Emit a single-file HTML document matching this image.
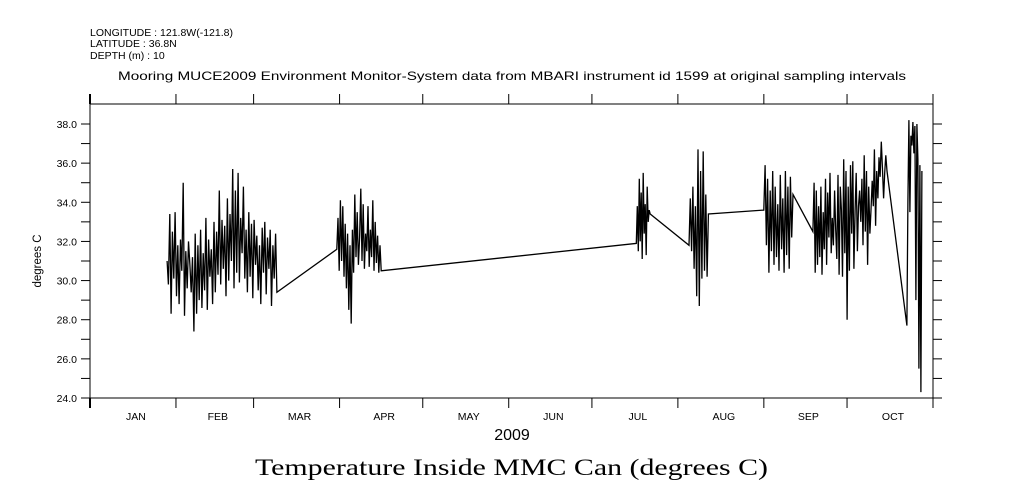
<!DOCTYPE html>
<html><head><meta charset="utf-8"><style>
html,body{margin:0;padding:0;background:#fff;}
svg{display:block;}
text{font-family:"Liberation Sans",sans-serif;fill:#000;}
</style></head><body>
<svg id="chart" width="1009" height="504" viewBox="0 0 1009 504">
<text x="90" y="36" font-size="10.5">LONGITUDE : 121.8W(-121.8)</text>
<text x="90" y="47" font-size="10.5">LATITUDE : 36.8N</text>
<text x="90" y="59" font-size="10.5">DEPTH (m) : 10</text>
<text x="118" y="80" font-size="12" textLength="788" lengthAdjust="spacingAndGlyphs">Mooring MUCE2009 Environment Monitor-System data from MBARI instrument id 1599 at original sampling intervals</text>
<rect x="90" y="104" width="843" height="294" fill="none" stroke="#000" stroke-width="1"/>
<g id="axes"></g>
<polyline id="series" fill="none" stroke="#000" stroke-width="1.3"/>
<text transform="translate(41,261) rotate(-90)" font-size="11.5" text-anchor="middle">degrees C</text>
<text x="512" y="440" font-size="16" text-anchor="middle">2009</text>
<text x="255" y="475" font-size="23" textLength="513" lengthAdjust="spacingAndGlyphs" style="font-family:'Liberation Serif',serif">Temperature Inside MMC Can (degrees C)</text>
</svg>
<script>
const monthLabels=["JAN","FEB","MAR","APR","MAY","JUN","JUL","AUG","SEP","OCT"];
const monthStarts=[0,31,59,90,120,151,181,212,243,273,304];
const yTicks=[24,26,28,30,32,34,36,38];
const segStart=[27.8,89,197,216,243,260.7,294.6];
const segEnd=[67.4,105,202,223,253.5,287.4,300];
const seg1=[31,29.8,33.4,28.3,32.5,30.1,33.5,29.2,31.8,28.8,32.1,30.5,35,28.2,31.5,29.6,32,30.8,29.4,31.2,27.4,32.4,28.3,31.8,29,32.6,28.6,31.4,29.5,33.2,28.5,32.1,30.2,31.6,28.8,33,29.4,32.5,30.3,34.6,29.8,33.1,30.6,32.8,29.2,34.2,30,33.4,31,35.7,29.6,34.6,30.4,35.5,29.9,33.2,31.4,34.8,30.1,32.6,29.4,33.5,30.2,32.9,29.1,33.1,30.8,32.3,29.5,31.8,28.8,32.7,30.4,33,29.3,32.2,30.6,32.6,28.7,31.8,30.1,32.4,29.4];
const seg2=[31.6,33.2,30.5,34.1,31,33.8,30.2,32.9,29.6,32.4,28.5,31.8,27.8,32.6,30.4,34.4,31.2,33.5,30.8,32.2,34.7,31,33.9,30.6,32.4,31.5,33.8,30.7,32.6,31.2,34.1,30.5,33,30.9,32.3,30.4,31.8,30.5];
const seg3=[31.9,33.8,31.5,35.2,32,34.5,31.1,35.5,32.4,33.9,31.3,34.8,33,33.6,33.4];
const seg4=[31.8,34.2,31.5,34.8,30.6,33.8,29.2,36.7,28.7,35.6,30.1,36.6,30.5,34.4,30.2,33.4];
const seg5=[33.6,35.9,31.8,35.2,30.4,34.6,31.5,35.6,30.8,34.8,31.2,33.9,30.5,35.4,31.6,34.2,30.4,35.6,31.3,34.8,30.6,35.3,32.2,34.4];
const seg6=[32.5,35,30.4,34.6,30.8,33.8,31.2,34.8,30.3,33.5,31.6,35.2,30.8,34.5,32.2,35.5,31.4,33.2,31.8,34.6,32.6,31.1,35.4,30.3,34.8,33.6,30.2,36.2,31.4,35.6,28,34.8,30.5,35.9,32.4,36.1,30.6,33.6,35.5,31.5,33.8,34.6,33,35.2,31.8,36.4,32.5,35.6,30.8,34.8,32.4,33.6,35.1,33.8,36.7,32.8,35.6,34.2,36.3,35.3,37.1,35.8,34.2,35.5,36.4,35.6];
const seg7=[27.7,34,38.2,33.5,37.4,36.9,38.1,36.5,37.9,29,38,36.2,25.5,35.9,24.3,35.6];
const segs=[seg1,seg2,seg3,seg4,seg5,seg6,seg7];

const X0=90,X1=933,Y0=398,Y1=104;
const xs=d=>X0+d*(X1-X0)/304;
const ys=v=>398-(v-24)*(274/14);
const NS="http://www.w3.org/2000/svg";
const ax=document.getElementById('axes');
function ln(x1,y1,x2,y2,name,w){const l=document.createElementNS(NS,'line');
l.setAttribute('x1',x1);l.setAttribute('y1',y1);l.setAttribute('x2',x2);l.setAttribute('y2',y2);
l.setAttribute('stroke','#000');l.setAttribute('stroke-width',w||1);


ax.appendChild(l);}
function tx(x,y,s,anchor,name){const t=document.createElementNS(NS,'text');
t.setAttribute('x',x);t.setAttribute('y',y);t.setAttribute('font-size','10.5');t.setAttribute('text-anchor',anchor);t.textContent=s;


ax.appendChild(t);}
monthStarts.forEach((d,i)=>{const x=xs(d);
ln(x,Y0,x,Y0+10,'x-tick-bottom',(i==0)?2:1);ln(x,Y1,x,Y1-10,'x-tick-top',(i==0)?2:1);});
monthLabels.forEach((m,i)=>tx((xs(monthStarts[i])+xs(monthStarts[i+1]))/2+3,420,m,'middle','x-tick-label'));
for(let v=24;v<=38;v++){const y=ys(v);ln(X0-9,y,X0,y,'y-tick-left');ln(X1,y,X1+9,y,'y-tick-right');}
yTicks.forEach(v=>tx(X0-13,ys(v)+4,v.toFixed(1),'end','y-tick-label'));
let pts=[];
segs.forEach((s,k)=>{const st=(segEnd[k]-segStart[k])/(s.length-1);
s.forEach((v,i)=>pts.push(xs(segStart[k]+i*st).toFixed(1)+','+ys(v).toFixed(1)));});
document.getElementById('series').setAttribute('points',pts.join(' '));
</script>
</body></html>
